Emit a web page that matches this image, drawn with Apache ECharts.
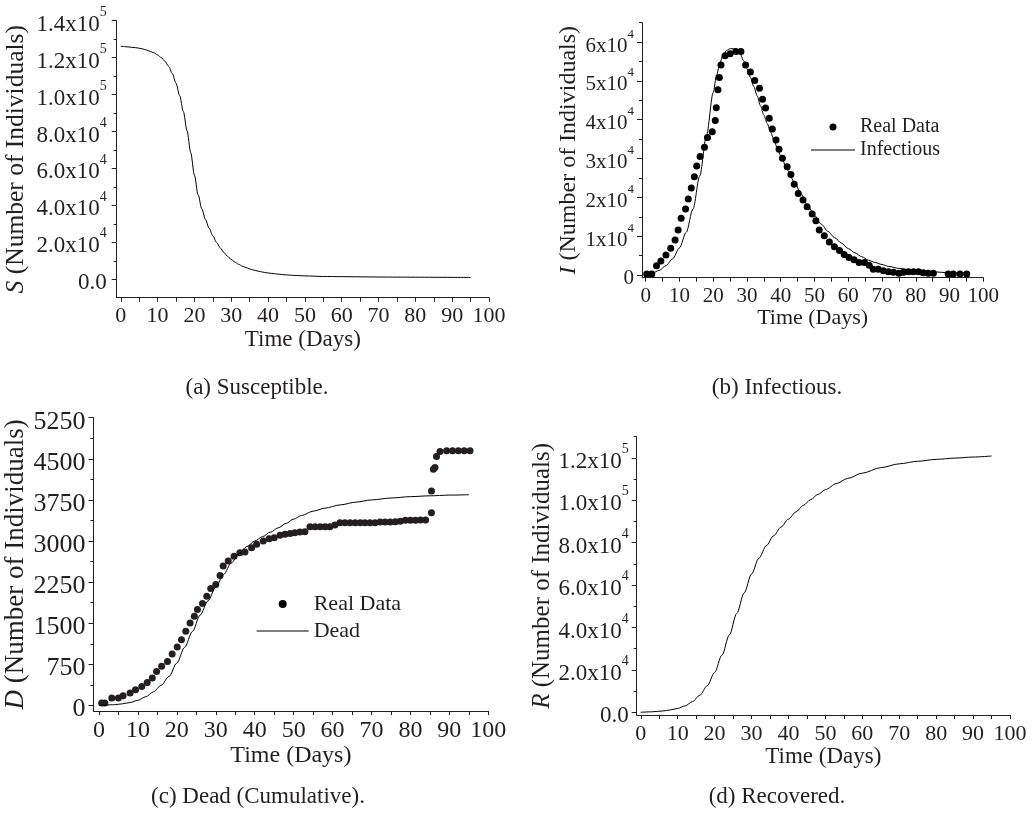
<!DOCTYPE html>
<html>
<head>
<meta charset="utf-8">
<title>SIRD model fits</title>
<script src="https://cdn.jsdelivr.net/npm/echarts@6/dist/echarts.min.js"></script>
<style>
  html, body { margin: 0; padding: 0; background: #fff; }
  #chart { width: 1036px; height: 818px; }
</style>
</head>
<body>
<div id="chart"></div>
<script>
// ---- data ----
const xTickLabels = [0, 10, 20, 30, 40, 50, 60, 70, 80, 90, 100];
const xTicks = [0, 5, 10, 15, 20, 25, 30, 35, 40, 45, 50, 55, 60, 65, 70, 75, 80, 85, 90, 95, 100];

const sTicks = [0, 20000, 40000, 60000, 80000, 100000, 120000, 140000];
const sMinor = [10000, 30000, 50000, 70000, 90000, 110000, 130000];
const iTicks = [0, 10000, 20000, 30000, 40000, 50000, 60000];
const iMinor = [5000, 15000, 25000, 35000, 45000, 55000, 65000];
const dTicks = [0, 750, 1500, 2250, 3000, 3750, 4500, 5250];
const dMinor = [375, 1125, 1875, 2625, 3375, 4125, 4875];
const rTicks = [0, 20000, 40000, 60000, 80000, 100000, 120000];
const rMinor = [10000, 30000, 50000, 70000, 90000, 110000, 130000];

// (a) susceptible model
const sDays = [0,1,2,3,4,5,6,7,8,9,10,11,12,13,14,15,16,17,18,19,20,21,22,23,24,25,26,27,28,29,30,
  31,32,33,34,35,36,37,38,39,40,42,44,46,48,50,55,60,65,70,75,80,85,90,95];
const sModel = [126100,126000,125800,125600,125400,125100,124700,124100,123400,122600,121500,
  120000,118000,115300,111400,106200,99400,90800,80400,68600,56400,45800,38200,32400,27600,23500,
  20000,17000,14500,12400,10700,9300,8100,7100,6300,5600,5000,4500,4100,3700,3400,2900,2500,2200,
  2000,1800,1500,1400,1300,1200,1150,1100,1050,1000,950];

// (b) infectious: real data + model
const iRealDays = [0.3,1.8,3.2,4.5,6.0,7.4,8.7,9.6,10.5,11.8,12.6,13.5,14.4,15.1,16.1,17.4,18.3,19.7,
  20.6,20.9,21.4,21.8,22.3,23.5,25.0,26.7,28.2,29.6,31.0,32.3,33.7,34.6,35.5,36.6,37.5,38.6,39.5,
  40.5,41.9,43.0,44.0,45.2,46.6,47.8,49.3,50.4,51.4,52.9,54.4,55.9,57.4,58.8,60.2,61.7,63.2,64.8,
  66.2,67.4,68.9,70.4,71.9,73.4,75.0,76.3,77.8,79.3,80.8,82.2,83.7,85.2,89.6,91.1,93.1,95.1];
const iReal = [260,260,2400,3600,5150,6900,9000,11600,14600,17000,19600,22400,25300,28100,30500,
  32900,35400,36900,39800,43100,47700,50900,54100,56500,57000,57600,57600,54100,52300,50100,48100,
  45300,43000,40400,37600,34800,32400,30100,27900,25900,23400,21000,19300,17600,15700,14000,11600,
  10100,8500,7300,6300,5300,4500,3900,3200,3200,2500,1500,1500,1100,860,690,430,690,860,860,860,
  600,430,430,260,260,260,260];
const iModelDays = [0,2,4,6,8,10,12,14,16,18,20,21,22,23,24,25,26,27,28,29,30,31,32,33,34,35,36,37,
  38,39,40,42,44,46,48,50,52,54,56,58,60,62,64,66,68,70,72,75,80,85,90,95];
const iModel = [200,500,1200,2400,4200,7000,11000,17000,25500,36000,47000,51500,54800,56800,57900,
  58300,58300,58000,56900,55200,53200,50900,48600,46200,43600,41200,39000,36800,34700,32600,30700,
  27000,24000,20900,17900,15300,13100,11200,9600,8200,6800,5700,4700,3800,3200,2700,2200,1700,1100,
  800,600,500];

// (c) dead (cumulative): real data + model
const dRealDays = [0.7,1.5,3.3,5.0,6.2,8.0,9.4,11.0,12.4,13.7,14.8,16.1,17.6,18.8,20.1,21.2,22.3,23.4,
  24.5,25.3,26.6,27.7,28.7,30.0,31.1,31.9,33.2,34.7,36.2,37.5,39.2,40.5,42.2,43.7,45.0,46.5,47.8,
  49.1,50.3,51.6,52.9,54.2,55.5,56.8,58.1,59.3,60.6,61.9,63.2,64.5,65.8,67.1,68.3,69.6,70.9,72.2,
  73.5,74.8,76.1,77.4,78.7,80.0,81.3,82.6,83.9,85.4,85.4,85.9,86.3,86.7,87.6,89.3,90.8,92.3,93.8,95.3];
const dReal = [44,44,135,135,177,227,287,348,421,500,622,714,805,939,1067,1201,1354,1506,1628,1750,
  1860,1994,2134,2207,2372,2543,2634,2725,2787,2798,2879,2940,3000,3043,3061,3104,3122,3140,3152,
  3165,3168,3262,3262,3262,3262,3262,3292,3335,3335,3335,3335,3335,3335,3335,3335,3347,3347,3347,
  3353,3360,3378,3378,3378,3384,3384,3518,3914,4310,4340,4543,4635,4647,4647,4647,4647,4647];
const dModelDays = [0,4,6,8,10,12,14,16,18,20,22,24,26,28,30,32,34,36,38,40,42,44,46,48,50,52,55,58,
  62,66,70,75,80,85,90,95];
const dModel = [0,15,31,55,95,160,250,370,530,775,1060,1350,1650,1910,2160,2390,2600,2775,2900,3000,
  3080,3160,3240,3320,3400,3465,3545,3600,3660,3710,3750,3785,3810,3825,3838,3845];

// (d) recovered model
const rDays = [0,3,6,8,10,12,14,16,18,20,22,24,26,28,30,32,34,36,38,40,42,44,46,48,50,53,56,60,65,
  70,75,80,85,90,95];
const rModel = [0,200,600,1100,1800,3000,5000,8000,12500,18800,27000,36500,46600,56300,65200,72700,
  78600,83300,87400,91100,94500,97600,100300,102800,105000,107900,110300,112800,115400,117200,
  118400,119300,119900,120400,120900];

// ---- styling ----
const FONT = 'Liberation Serif';
const INK = '#231f20';

const zip = (xs, ys) => xs.map((x, k) => [x, ys[k]]);

function sci(decimals) {
  return function (v) {
    if (v === 0) return '{m|' + (decimals ? '0.0' : '0') + '}';
    const e = Math.floor(Math.log10(v) + 1e-9);
    const m = v / Math.pow(10, e);
    return '{m|' + m.toFixed(decimals) + 'x10}{s|' + e + '}';
  };
}

function xAxisFor(grid, min, labelSize, nameSize, nameGap) {
  return {
    type: 'value', gridIndex: grid, min: min, max: 100,
    name: 'Time (Days)', nameLocation: 'middle', nameGap: nameGap,
    nameTextStyle: { fontFamily: FONT, fontSize: nameSize, color: INK },
    axisLine: { show: true, onZero: false, lineStyle: { color: INK, width: 1 } },
    axisTick: { show: true, customValues: xTicks, length: 4, lineStyle: { color: INK } },
    axisLabel: { customValues: xTickLabels, margin: 8, fontFamily: FONT, fontSize: labelSize, color: INK },
    splitLine: { show: false }
  };
}

function yAxisFor(grid, min, max, ticks, letter, o) {
  return {
    type: 'value', gridIndex: grid, min: min, max: max, position: 'left',
    name: '{i|' + letter + '} (Number of Individuals)', nameLocation: 'middle',
    nameGap: o.nameGap, nameRotate: 90,
    nameTextStyle: {
      fontFamily: FONT, fontSize: o.nameSize, color: INK,
      rich: { i: { fontFamily: FONT, fontSize: o.nameSize, fontStyle: 'italic', color: INK } }
    },
    axisLine: { show: true, onZero: false, lineStyle: { color: INK, width: 1 } },
    axisTick: { show: true, customValues: ticks, length: 5, lineStyle: { color: INK } },
    axisLabel: {
      customValues: ticks, margin: o.margin, formatter: o.formatter,
      fontFamily: FONT, fontSize: o.labelSize, color: INK,
      rich: {
        m: { fontFamily: FONT, fontSize: o.labelSize, lineHeight: o.labelSize + 8, verticalAlign: 'bottom', color: INK },
        s: { fontFamily: FONT, fontSize: o.supSize, lineHeight: o.supSize, verticalAlign: 'top', color: INK }
      }
    },
    splitLine: { show: false }
  };
}

function minorAxis(grid, min, max, ticks) {
  return {
    type: 'value', gridIndex: grid, min: min, max: max, position: 'left',
    axisLine: { show: false, onZero: false },
    axisTick: { show: true, customValues: ticks, length: 3, lineStyle: { color: INK } },
    axisLabel: { show: false },
    splitLine: { show: false }
  };
}

function curve(name, grid, data) {
  return {
    name: name, type: 'line', xAxisIndex: grid, yAxisIndex: grid, data: data,
    symbol: 'none', smooth: 0.3, smoothMonotone: 'x',
    lineStyle: { color: '#000', width: 1 }, itemStyle: { color: '#000' }
  };
}

function dots(grid, data, color, size) {
  return {
    name: 'Real Data', type: 'scatter', xAxisIndex: grid, yAxisIndex: grid, data: data,
    symbol: 'circle', symbolSize: size, itemStyle: { color: color, opacity: 1 }
  };
}

function caption(text, x, y) {
  return {
    type: 'text', x: x, y: y,
    style: {
      text: text, font: '23px "Liberation Serif"', fill: INK,
      textAlign: 'center', textVerticalAlign: 'middle', align: 'center', verticalAlign: 'middle'
    }
  };
}

// plain line for the model entries in the legends (no marker in the middle)
const lineIcon = w => 'path://M0,0H' + w + 'V1.2H0Z';

const chart = echarts.init(document.getElementById('chart'), null, { renderer: 'canvas' });

chart.setOption({
  animation: false,
  backgroundColor: '#fff',
  grid: [
    { left: 116.7, top: 20.7, width: 372.3, height: 277, containLabel: false, outerBoundsMode: 'none' },
    { left: 642, top: 22.7, width: 341.3, height: 255, containLabel: false, outerBoundsMode: 'none' },
    { left: 93.5, top: 417.7, width: 394.8, height: 293.3, containLabel: false, outerBoundsMode: 'none' },
    { left: 636.7, top: 436.7, width: 373.3, height: 278.3, containLabel: false, outerBoundsMode: 'none' }
  ],
  xAxis: [
    xAxisFor(0, -1.1, 22, 23, 31),
    xAxisFor(1, -1.1, 21, 22, 26),
    xAxisFor(2, -1.4, 24, 24, 32),
    xAxisFor(3, -1.1, 22, 23, 30)
  ],
  yAxis: [
    yAxisFor(0, -10000, 140000, sTicks, 'S', { nameGap: 87, nameSize: 25.5, labelSize: 23, supSize: 14, margin: 10, formatter: sci(1) }),
    yAxisFor(1, -700, 65000, iTicks, 'I', { nameGap: 61, nameSize: 24, labelSize: 21, supSize: 13, margin: 8, formatter: sci(0) }),
    yAxisFor(2, -100, 5250, dTicks, 'D', { nameGap: 56, nameSize: 27, labelSize: 26, supSize: 14, margin: 8, formatter: function (v) { return '{m|' + v + '}'; } }),
    yAxisFor(3, -1300, 130000, rTicks, 'R', { nameGap: 82, nameSize: 25, labelSize: 23, supSize: 14, margin: 8, formatter: sci(1) }),
    minorAxis(0, -10000, 140000, sMinor),
    minorAxis(1, -700, 65000, iMinor),
    minorAxis(2, -100, 5250, dMinor),
    minorAxis(3, -1300, 130000, rMinor)
  ],
  legend: [
    {
      data: [{ name: 'Real Data', icon: 'circle' }, { name: 'Infectious', icon: lineIcon(44) }],
      orient: 'vertical', left: 806, top: 112,
      itemWidth: 44, itemHeight: 7, itemGap: 3, selectedMode: false,
      textStyle: { fontFamily: FONT, fontSize: 20, color: INK }
    },
    {
      data: [{ name: 'Real Data', icon: 'circle' }, { name: 'Dead', icon: lineIcon(52) }],
      orient: 'vertical', left: 251.7, top: 588,
      itemWidth: 52, itemHeight: 8, itemGap: 5, selectedMode: false,
      textStyle: { fontFamily: FONT, fontSize: 22, color: INK }
    }
  ],
  series: [
    curve('Susceptible', 0, zip(sDays, sModel)),
    dots(1, zip(iRealDays, iReal), '#000', 7),
    curve('Infectious', 1, zip(iModelDays, iModel)),
    dots(2, zip(dRealDays, dReal), INK, 7),
    curve('Dead', 2, zip(dModelDays, dModel)),
    curve('Recovered', 3, zip(rDays, rModel))
  ],
  graphic: [
    caption('(a) Susceptible.', 257, 388),
    caption('(b) Infectious.', 777, 388),
    caption('(c) Dead (Cumulative).', 258, 797),
    caption('(d) Recovered.', 777, 797)
  ]
});

window.addEventListener('resize', () => chart.resize());
</script>
</body>
</html>
